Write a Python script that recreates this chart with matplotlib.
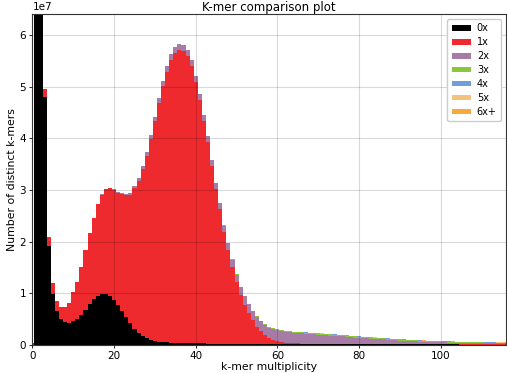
import matplotlib

matplotlib.use("Agg")
import matplotlib.pyplot as plt
import numpy as np

# k-mer counts per multiplicity bin (units of 1e7), one entry per multiplicity 0..116
SCALE = 1e7
labels = ["0x", "1x", "2x", "3x", "4x", "5x", "6x+"]
colors = ["#000000", "#ee2a2e", "#a67ca6", "#8cc63f", "#6f9fd6", "#f4c27f", "#f8aa3c"]

count_0x = [
    0.0, 18.0, 7.5, 4.81, 1.92, 0.99, 0.66, 0.50, 0.44, 0.42,
    0.45, 0.50, 0.58, 0.68, 0.79, 0.88, 0.95, 0.99, 0.99, 0.94,
    0.87, 0.77, 0.66, 0.54, 0.42, 0.31, 0.23, 0.17, 0.12, 0.09,
    0.07, 0.06, 0.05, 0.045, 0.04, 0.035, 0.03, 0.03, 0.028, 0.026,
    0.025, 0.024, 0.023, 0.022, 0.021, 0.02, 0.02, 0.019, 0.018, 0.018,
    0.017, 0.016, 0.016, 0.015, 0.015, 0.014, 0.014, 0.013, 0.013, 0.012,
    0.012, 0.011, 0.011, 0.010, 0.010, 0.009, 0.009, 0.008, 0.008, 0.008,
    0.007, 0.007, 0.007, 0.006, 0.006, 0.006, 0.006, 0.005, 0.005, 0.005,
    0.005, 0.005, 0.004, 0.004, 0.004, 0.004, 0.004, 0.004, 0.003, 0.003,
    0.003, 0.003, 0.003, 0.003, 0.003, 0.003, 0.003, 0.003, 0.003, 0.003,
    0.003, 0.003, 0.003, 0.003, 0.003, 0.002, 0.002, 0.002, 0.002, 0.002,
    0.002, 0.002, 0.002, 0.002, 0.002, 0.002, 0.002,
]
count_1x = [
    0.03, 0.0, 0.0, 0.14, 0.17, 0.20, 0.19, 0.23, 0.29, 0.38,
    0.57, 0.71, 0.93, 1.15, 1.37, 1.57, 1.78, 1.92, 2.02, 2.09,
    2.13, 2.18, 2.26, 2.36, 2.49, 2.72, 2.95, 3.23, 3.54, 3.90,
    4.27, 4.63, 4.96, 5.245, 5.48, 5.625, 5.69, 5.66, 5.562, 5.374,
    5.075, 4.726, 4.317, 3.908, 3.439, 2.99, 2.61, 2.171, 1.822, 1.492,
    1.193, 0.944, 0.754, 0.595, 0.455, 0.336, 0.246, 0.177, 0.117, 0.078,
    0.053, 0.038, 0.029, 0.022, 0.018, 0.015, 0.013, 0.011, 0.009, 0.008,
    0.007, 0.006, 0.006, 0.005, 0.005, 0.004, 0.004, 0.004, 0.003, 0.003,
    0.003, 0.002, 0.002, 0.002, 0.002, 0.002, 0.002, 0.002, 0.002, 0.002,
    0.002, 0.002, 0.002, 0.002, 0.002, 0.002, 0.002, 0.002, 0.002, 0.002,
    0.002, 0.002, 0.002, 0.002, 0.002, 0.002, 0.002, 0.002, 0.002, 0.002,
    0.002, 0.002, 0.002, 0.002, 0.002, 0.002, 0.002,
]
count_2x = [
    0.0, 0.0, 0.0, 0.0, 0.0, 0.0, 0.0, 0.0, 0.0, 0.0,
    0.0, 0.0, 0.0, 0.0, 0.0, 0.0, 0.005, 0.008, 0.01, 0.012,
    0.015, 0.02, 0.025, 0.03, 0.04, 0.05, 0.06, 0.07, 0.075, 0.08,
    0.085, 0.09, 0.10, 0.11, 0.11, 0.115, 0.12, 0.12, 0.12, 0.12,
    0.12, 0.12, 0.12, 0.12, 0.12, 0.12, 0.12, 0.12, 0.13, 0.14,
    0.15, 0.16, 0.17, 0.18, 0.18, 0.19, 0.19, 0.20, 0.20, 0.21,
    0.21, 0.21, 0.21, 0.205, 0.20, 0.20, 0.195, 0.19, 0.19, 0.185,
    0.18, 0.175, 0.17, 0.165, 0.16, 0.155, 0.15, 0.145, 0.14, 0.13,
    0.125, 0.12, 0.115, 0.11, 0.105, 0.10, 0.095, 0.09, 0.085, 0.08,
    0.075, 0.07, 0.066, 0.062, 0.058, 0.054, 0.05, 0.047, 0.044, 0.041,
    0.039, 0.037, 0.035, 0.033, 0.031, 0.030, 0.028, 0.027, 0.026, 0.025,
    0.024, 0.023, 0.022, 0.021, 0.020, 0.020, 0.019,
]
count_3x = [0.0] * 45 + [
    0.002, 0.002, 0.003, 0.003, 0.004,
    0.005, 0.006, 0.007, 0.008, 0.009, 0.010, 0.012, 0.013, 0.015, 0.017,
    0.019, 0.02, 0.021, 0.022, 0.023, 0.024, 0.025, 0.025, 0.025, 0.025,
    0.025, 0.025, 0.025, 0.025, 0.025, 0.025, 0.025, 0.025, 0.025, 0.025,
    0.025, 0.025, 0.025, 0.024, 0.024, 0.024, 0.023, 0.023, 0.023, 0.022,
    0.022, 0.022, 0.021, 0.021, 0.021, 0.020, 0.020, 0.020, 0.020, 0.019,
    0.019, 0.018, 0.018, 0.017, 0.017, 0.016, 0.016, 0.015, 0.015, 0.014,
    0.014, 0.013, 0.013, 0.013, 0.012, 0.012, 0.012,
]
count_4x = [0.0] * 56 + [
    0.001, 0.001, 0.001, 0.002, 0.002,
    0.002, 0.002, 0.002, 0.002, 0.002, 0.002, 0.002, 0.002, 0.002, 0.002,
    0.003, 0.003, 0.003, 0.003, 0.003, 0.003, 0.003, 0.003, 0.003, 0.003,
    0.003, 0.003, 0.003, 0.003, 0.003, 0.003, 0.003, 0.003, 0.003, 0.003,
    0.004, 0.004, 0.004, 0.004, 0.004, 0.004, 0.004, 0.004, 0.004, 0.004,
    0.004, 0.004, 0.004, 0.004, 0.004, 0.004, 0.004, 0.004, 0.004, 0.004,
    0.004, 0.004, 0.004, 0.004, 0.004, 0.004,
]
count_5x = [0.0] * 71 + [0.001] * 30 + [0.002] * 16
count_6x = [0.0] * 81 + [0.001] * 20 + [0.002] * 16

series = [count_0x, count_1x, count_2x, count_3x, count_4x, count_5x, count_6x]

fig = plt.figure(figsize=(5.07, 3.73), dpi=100)
ax = fig.add_axes([0.064, 0.076, 0.934, 0.886])

x = np.arange(len(count_0x))
bottom = np.zeros(len(x))
for vals, col, lab in zip(series, colors, labels):
    v = np.asarray(vals) * SCALE
    ax.bar(x, v, width=1.0, bottom=bottom, color=col, linewidth=0, label=lab)
    bottom += v

ax.set_xlim(0, 116)
ax.set_ylim(0, 6.41e7)
ax.set_xticks([0, 20, 40, 60, 80, 100])
ax.grid(True, color="k", alpha=0.15, lw=0.8)
ax.tick_params(labelsize=7.5, length=2.5, width=0.6, pad=2)
ax.yaxis.get_offset_text().set_fontsize(7.5)
for s in ax.spines.values():
    s.set_linewidth(0.8)
    s.set_color("#333333")

ax.set_title("K-mer comparison plot", fontsize=8.5, pad=2)
ax.set_xlabel("k-mer multiplicity", fontsize=7.8, labelpad=1)
ax.set_ylabel("Number of distinct k-mers", fontsize=7.8, labelpad=2)
ax.legend(loc="upper right", fontsize=7, handlelength=2.0, handleheight=0.5,
          labelspacing=0.4, borderpad=0.45, handletextpad=0.6, framealpha=1.0)

fig.savefig("out.png", dpi=100)
